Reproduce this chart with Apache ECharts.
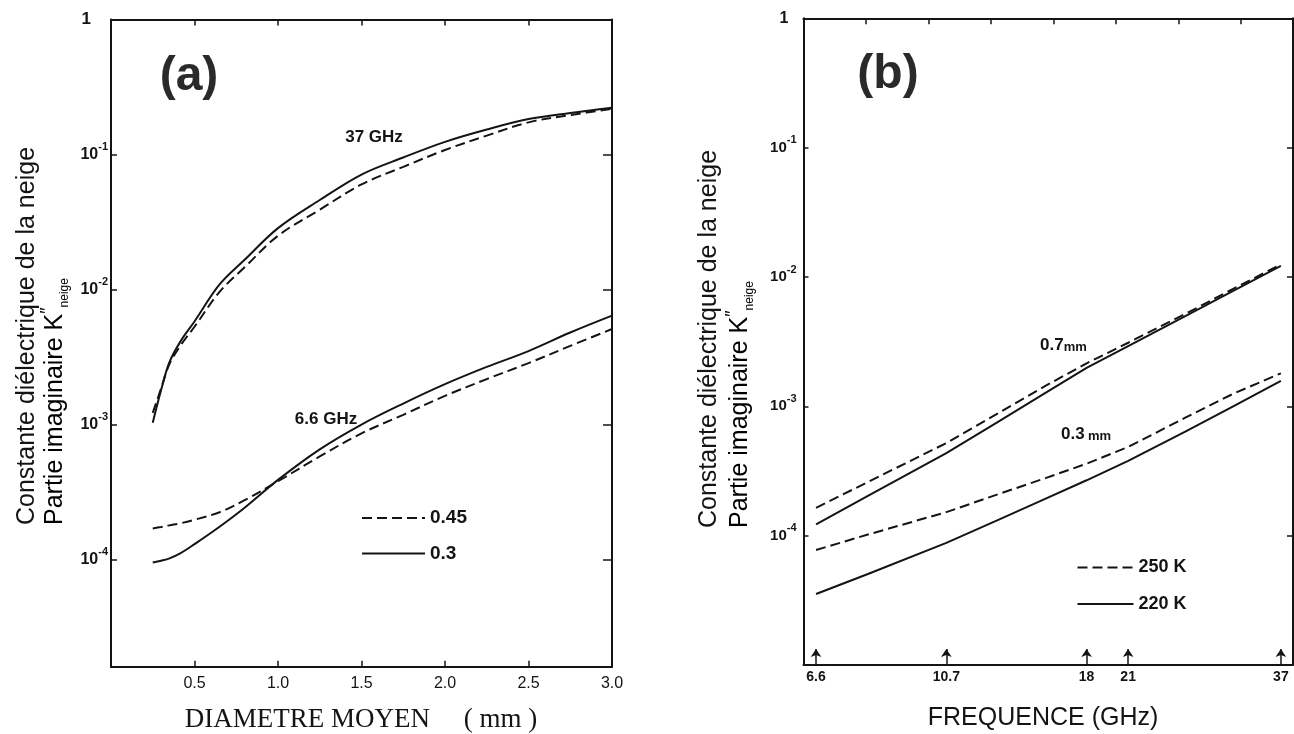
<!DOCTYPE html>
<html><head><meta charset="utf-8">
<script src="https://cdn.jsdelivr.net/npm/echarts@6/dist/echarts.min.js"></script>
<style>html,body{margin:0;padding:0;background:#fff}#c{width:1294px;height:734px}</style>
</head><body><div id="c"></div>
<script>
// ---------- Panel (a): K'' vs mean grain diameter ----------
const diamA   = [0.25, 0.3, 0.35, 0.42, 0.5, 0.65, 0.8, 1.0, 1.25, 1.5, 1.75, 2.0, 2.25, 2.5, 2.75, 3.0];
const k37_045 = [1.22e-3, 1.85e-3, 2.8e-3, 3.9e-3, 5.3e-3, 9.6e-3, 1.46e-2, 2.5e-2, 3.9e-2, 6.0e-2, 8.1e-2, 0.108, 0.138, 0.173, 0.196, 0.218];
const k37_03  = [1.03e-3, 1.8e-3, 2.9e-3, 4.2e-3, 5.8e-3, 1.09e-2, 1.66e-2, 2.85e-2, 4.6e-2, 7.1e-2, 9.5e-2, 0.124, 0.153, 0.183, 0.203, 0.222];
const k66_045 = [1.7e-4, 1.74e-4, 1.79e-4, 1.86e-4, 1.97e-4, 2.24e-4, 2.75e-4, 3.8e-4, 5.8e-4, 8.6e-4, 1.18e-3, 1.63e-3, 2.17e-3, 2.85e-3, 3.82e-3, 5.1e-3];
const k66_03  = [9.5e-5, 9.8e-5, 1.02e-4, 1.12e-4, 1.3e-4, 1.75e-4, 2.42e-4, 3.89e-4, 6.55e-4, 1.0e-3, 1.43e-3, 1.99e-3, 2.67e-3, 3.5e-3, 4.8e-3, 6.4e-3];
const legendA = ['0.45', '0.3'];

// ---------- Panel (b): K'' vs frequency ----------
const freqB   = [6.6, 8, 10.7, 13, 15.5, 18, 21, 26, 31, 37];
const k07_250 = [1.64e-4, 2.6e-4, 5.2e-4, 8.9e-4, 1.45e-3, 2.15e-3, 3.1e-3, 5.2e-3, 8.1e-3, 1.25e-2];
const k07_220 = [1.225e-4, 2.03e-4, 4.35e-4, 7.65e-4, 1.28e-3, 1.98e-3, 2.92e-3, 5.0e-3, 7.8e-3, 1.22e-2];
const k03_250 = [7.75e-5, 1.02e-4, 1.52e-4, 2.1e-4, 2.8e-4, 3.6e-4, 4.85e-4, 8.2e-4, 1.25e-3, 1.8e-3];
const k03_220 = [3.54e-5, 5.05e-5, 8.8e-5, 1.33e-4, 1.94e-4, 2.68e-4, 3.78e-4, 6.4e-4, 1.0e-3, 1.57e-3];
const legendB = ['250 K', '220 K'];
const freqTicksB = [6.6, 10.7, 18, 21, 37];
const freqTickLabelsB = ['6.6', '10.7', '18', '21', '37'];

// ---------- styling / layout ----------
const INK = '#141414';
const SANS = '"Liberation Sans", Arial, Helvetica, sans-serif';
const SERIF = '"Liberation Serif", "Times New Roman", serif';
const DASH = [10, 5];
const yMinA = 1.607e-5, yMinB = 1e-5;
const arrowTopB = 1.33e-5;

function pairs(xs, ys) { return xs.map((x, i) => [x, ys[i]]); }
function decadeLabel(v) {
  const l = Math.log10(v), e = Math.round(l);
  if (Math.abs(l - e) > 1e-6) return '';
  if (e === 0) return '{one|1}';
  return '{b|10}{s|' + e + '}';
}
function decadeRich(size, onePad) {
  return {
    b: {fontSize: size, fontWeight: 'bold', color: INK, fontFamily: SANS, lineHeight: 26},
    s: {fontSize: 11, fontWeight: 'bold', color: INK, fontFamily: SANS, lineHeight: 10, verticalAlign: 'top'},
    one: {fontSize: size + 1, fontWeight: 'bold', color: INK, fontFamily: SANS, lineHeight: 26, padding: [0, onePad, 0, 0]}
  };
}
const axLine = {show: true, onZero: false, lineStyle: {color: INK, width: 2}};
const noSplit = {show: false};

function lineSeries(name, xi, yi, xs, ys, dashed, smooth) {
  return {
    type: 'line', name: name, xAxisIndex: xi, yAxisIndex: yi,
    data: pairs(xs, ys), symbol: 'none', showSymbol: false, smooth: smooth,
    lineStyle: {color: INK, width: 2, type: dashed ? DASH : 'solid'},
    itemStyle: {color: INK},
    emphasis: {disabled: true}, clip: true
  };
}
const legendItemStyle = {color: 'rgba(0,0,0,0)', borderColor: 'rgba(0,0,0,0)', borderWidth: 0, opacity: 0};

const option = {
  animation: false,
  backgroundColor: '#ffffff',
  textStyle: {fontFamily: SANS, color: INK},
  grid: [
    {left: 111, top: 19.5, width: 501, height: 647.2},
    {left: 803.5, top: 18.3, width: 489.5, height: 646.7}
  ],
  xAxis: [
    { // (a) bottom
      type: 'value', gridIndex: 0, position: 'bottom', min: 0, max: 3, interval: 0.5,
      axisLine: axLine, axisTick: {show: true, inside: true, length: 6, lineStyle: {color: INK, width: 1.5}},
      axisLabel: {show: true, showMinLabel: false, margin: 9, fontSize: 16, color: INK, fontFamily: SANS,
        formatter: v => v.toFixed(1)},
      splitLine: noSplit
    },
    { // (a) top
      type: 'value', gridIndex: 0, position: 'top', min: 0, max: 3, interval: 0.5,
      axisLine: axLine, axisTick: {show: true, inside: true, length: 6, lineStyle: {color: INK, width: 1.5}},
      axisLabel: {show: false}, splitLine: noSplit
    },
    { // (b) bottom (log frequency)
      type: 'log', logBase: 10, gridIndex: 1, position: 'bottom', min: 6.3, max: 38.7,
      axisLine: axLine, axisTick: {show: false}, axisLabel: {show: false}, splitLine: noSplit,
      minorTick: {show: false}
    },
    { // (b) top ticks
      type: 'value', gridIndex: 1, position: 'top', min: 0, max: 7.83, interval: 1,
      axisLine: axLine, axisTick: {show: true, inside: true, length: 6, lineStyle: {color: INK, width: 1.5}},
      axisLabel: {show: false}, splitLine: noSplit
    }
  ],
  yAxis: [
    { // (a) left
      type: 'log', logBase: 10, gridIndex: 0, position: 'left', min: yMinA, max: 1,
      axisLine: axLine, axisTick: {show: true, inside: true, length: 6, lineStyle: {color: INK, width: 1.5}},
      axisLabel: {show: true, showMinLabel: false, margin: 3, formatter: decadeLabel, rich: decadeRich(16, 17)},
      splitLine: noSplit, minorTick: {show: false}
    },
    { // (a) right
      type: 'log', logBase: 10, gridIndex: 0, position: 'right', min: yMinA, max: 1,
      axisLine: axLine, axisTick: {show: true, inside: true, length: 9, lineStyle: {color: INK, width: 1.5}},
      axisLabel: {show: false}, splitLine: noSplit
    },
    { // (b) left
      type: 'log', logBase: 10, gridIndex: 1, position: 'left', min: yMinB, max: 1,
      axisLine: axLine, axisTick: {show: true, inside: true, length: 5, lineStyle: {color: INK, width: 1.5}},
      axisLabel: {show: true, showMinLabel: false, margin: 7, formatter: decadeLabel, rich: decadeRich(15, 8)},
      splitLine: noSplit, minorTick: {show: false}
    },
    { // (b) right
      type: 'log', logBase: 10, gridIndex: 1, position: 'right', min: yMinB, max: 1,
      axisLine: axLine, axisTick: {show: true, inside: true, length: 6, lineStyle: {color: INK, width: 1.5}},
      axisLabel: {show: false}, splitLine: noSplit
    }
  ],
  legend: [
    {
      data: legendA, orient: 'vertical', left: 356, top: 503.5,
      itemWidth: 63, itemHeight: 18, itemGap: 16.5, selectedMode: false,
      itemStyle: legendItemStyle,
      textStyle: {fontSize: 19, fontWeight: 'bold', color: INK, fontFamily: SANS}
    },
    {
      data: legendB, orient: 'vertical', left: 1071.5, top: 553.5,
      itemWidth: 56, itemHeight: 18, itemGap: 18.5, selectedMode: false,
      itemStyle: legendItemStyle,
      textStyle: {fontSize: 18, fontWeight: 'bold', color: INK, fontFamily: SANS}
    }
  ],
  series: [
    lineSeries(legendA[0], 0, 0, diamA, k37_045, true, 0.35),
    lineSeries(legendA[1], 0, 0, diamA, k37_03, false, 0.35),
    lineSeries(legendA[0], 0, 0, diamA, k66_045, true, 0.35),
    lineSeries(legendA[1], 0, 0, diamA, k66_03, false, 0.35),
    lineSeries(legendB[0], 2, 2, freqB, k07_250, true, false),
    lineSeries(legendB[1], 2, 2, freqB, k07_220, false, false),
    lineSeries(legendB[0], 2, 2, freqB, k03_250, true, false),
    lineSeries(legendB[1], 2, 2, freqB, k03_220, false, false),
    { // frequency arrows + labels on (b) axis
      type: 'line', name: 'freqTicks', xAxisIndex: 2, yAxisIndex: 2, data: [],
      markLine: {
        silent: true, animation: false, symbol: ['none', 'arrow'], symbolSize: 8,
        lineStyle: {color: INK, width: 1.5, type: 'solid'},
        emphasis: {disabled: true},
        label: {show: true, position: 'start', formatter: '{b}', color: INK, fontSize: 14,
          fontWeight: 'bold', fontFamily: SANS, distance: 5},
        data: freqTicksB.map((f, i) => [
          {coord: [f, yMinB], name: freqTickLabelsB[i]},
          {coord: [f, arrowTopB]}
        ])
      }
    }
  ],
  graphic: [
    {type: 'text', x: 189, y: 77, style: {text: '(a)', font: 'bold 48px ' + SANS, fill: '#2a2a2a', align: 'center', verticalAlign: 'middle', textAlign: 'center', textVerticalAlign: 'middle'}},
    {type: 'text', x: 888, y: 75, style: {text: '(b)', font: 'bold 48px ' + SANS, fill: '#2a2a2a', align: 'center', verticalAlign: 'middle', textAlign: 'center', textVerticalAlign: 'middle'}},
    {type: 'text', x: 374, y: 137, style: {text: '37 GHz', font: 'bold 17px ' + SANS, fill: INK, align: 'center', verticalAlign: 'middle', textAlign: 'center', textVerticalAlign: 'middle'}},
    {type: 'text', x: 326, y: 419, style: {text: '6.6 GHz', font: 'bold 17px ' + SANS, fill: INK, align: 'center', verticalAlign: 'middle', textAlign: 'center', textVerticalAlign: 'middle'}},
    {type: 'text', x: 1040, y: 345, style: {text: '{a|0.7}{m|mm}', align: 'left', verticalAlign: 'middle', textAlign: 'left', textVerticalAlign: 'middle',
      rich: {a: {fontSize: 17, fontWeight: 'bold', fontFamily: SANS, fill: INK, color: INK}, m: {fontSize: 13, fontWeight: 'bold', fontFamily: SANS, fill: INK, color: INK, verticalAlign: 'bottom'}}}},
    {type: 'text', x: 1061, y: 434, style: {text: '{a|0.3} {m|mm}', align: 'left', verticalAlign: 'middle', textAlign: 'left', textVerticalAlign: 'middle',
      rich: {a: {fontSize: 17, fontWeight: 'bold', fontFamily: SANS, fill: INK, color: INK}, m: {fontSize: 13, fontWeight: 'bold', fontFamily: SANS, fill: INK, color: INK, verticalAlign: 'bottom'}}}},
    // axis titles (a)
    {type: 'text', x: 361, y: 720, style: {text: 'DIAMETRE MOYEN     ( mm )', font: '27px ' + SERIF, fill: INK, align: 'center', verticalAlign: 'middle', textAlign: 'center', textVerticalAlign: 'middle'}},
    {type: 'text', x: 27, y: 525, rotation: Math.PI / 2, style: {text: 'Constante diélectrique de la neige', font: '25px ' + SANS, fill: INK, align: 'left', verticalAlign: 'middle', textAlign: 'left', textVerticalAlign: 'middle'}},
    {type: 'text', x: 55, y: 525, rotation: Math.PI / 2, style: {text: '{t|Partie imaginaire K}{p|″}{n|neige}', align: 'left', verticalAlign: 'middle', textAlign: 'left', textVerticalAlign: 'middle',
      rich: {t: {fontSize: 25, fontFamily: SANS, color: INK, lineHeight: 32}, p: {fontSize: 18, fontFamily: SANS, color: INK, lineHeight: 16, verticalAlign: 'top'}, n: {fontSize: 12, fontFamily: SANS, color: INK, lineHeight: 14, verticalAlign: 'bottom'}}}},
    // axis titles (b)
    {type: 'text', x: 1043, y: 718, style: {text: 'FREQUENCE (GHz)', font: '25px ' + SANS, fill: INK, align: 'center', verticalAlign: 'middle', textAlign: 'center', textVerticalAlign: 'middle'}},
    {type: 'text', x: 709, y: 528, rotation: Math.PI / 2, style: {text: 'Constante diélectrique de la neige', font: '25px ' + SANS, fill: INK, align: 'left', verticalAlign: 'middle', textAlign: 'left', textVerticalAlign: 'middle'}},
    {type: 'text', x: 740, y: 528, rotation: Math.PI / 2, style: {text: '{t|Partie imaginaire K}{p|″}{n|neige}', align: 'left', verticalAlign: 'middle', textAlign: 'left', textVerticalAlign: 'middle',
      rich: {t: {fontSize: 25, fontFamily: SANS, color: INK, lineHeight: 32}, p: {fontSize: 18, fontFamily: SANS, color: INK, lineHeight: 16, verticalAlign: 'top'}, n: {fontSize: 12, fontFamily: SANS, color: INK, lineHeight: 14, verticalAlign: 'bottom'}}}}
  ]
};

const chart = echarts.init(document.getElementById('c'), null, {renderer: 'canvas'});
chart.setOption(option);
</script>
</body></html>
